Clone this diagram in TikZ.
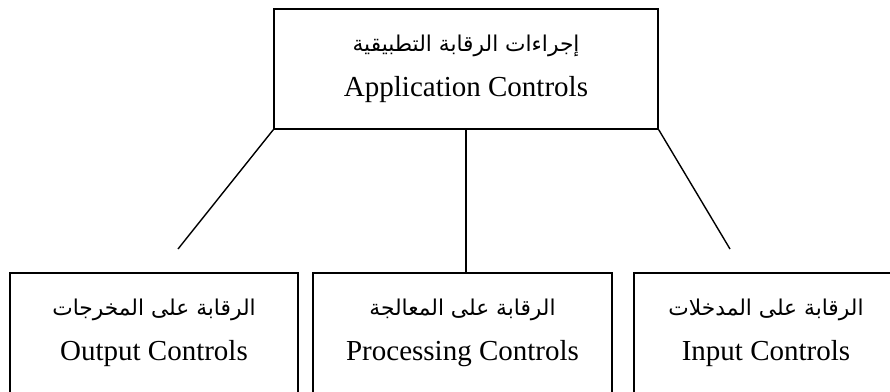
\documentclass[tikz,border=0pt]{standalone}
\usepackage{fontspec}
\setmainfont{Liberation Serif}
\TeXXeTstate=1
\newfontfamily\arabicfont[Script=Arabic,Scale=0.75]{DejaVu Sans}
\begin{document}
\begin{tikzpicture}[x=1pt,y=-1pt,
  box/.style={draw,line width=1.4pt,align=center,inner sep=0pt,minimum height=120pt,
    font=\fontsize{29}{45}\selectfont},
  link/.style={line width=1.4pt}]
\useasboundingbox (0,0) rectangle (890,391);
\clip (0,0) rectangle (890,391);
\node[box,minimum width=384pt] (top) at (466,69)
  {{\arabicfont\beginR إجراءات الرقابة التطبيقية\endR}\\Application Controls};
\node[box,minimum width=288pt] (out) at (154,333)
  {{\arabicfont\beginR الرقابة على المخرجات\endR}\\Output Controls};
\node[box,minimum width=299pt] (mid) at (462.5,333)
  {{\arabicfont\beginR الرقابة على المعالجة\endR}\\Processing Controls};
\node[box,minimum width=264pt] (inp) at (766,333)
  {{\arabicfont\beginR الرقابة على المدخلات\endR}\\Input Controls};
\coordinate (lend) at (178,249);
\coordinate (rend) at (730,249);
\draw[link] (top.south west) -- (lend);
\draw[link] (top.south) -- (top.south |- mid.north);
\draw[link] (top.south east) -- (rend);
\end{tikzpicture}
\end{document}
